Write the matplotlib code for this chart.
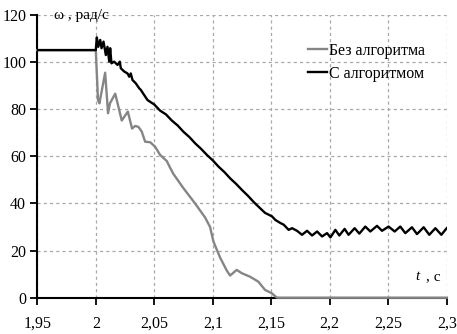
import matplotlib
matplotlib.use("Agg")
import matplotlib.pyplot as plt

plt.rcParams['font.family'] = ['Liberation Serif', 'DejaVu Serif']

# --- data ---
t_without = [1.95, 2.0, 2.0019, 2.0031, 2.0080, 2.0105, 2.0121, 2.0166, 2.0200,
             2.0222, 2.0274, 2.0310, 2.0337, 2.0365, 2.0393, 2.0422, 2.0465,
             2.0507, 2.0550, 2.0607, 2.0637, 2.0664, 2.0749, 2.0849, 2.0935,
             2.0977, 2.1006, 2.1063, 2.1120, 2.1148, 2.1205, 2.1248, 2.1319,
             2.1390, 2.1447, 2.1504, 2.1529, 2.155, 2.3]
w_without = [105.1, 105.1, 83.9, 82.5, 95.5, 78.3, 82.5, 86.6, 79.7,
             75.2, 79.0, 71.8, 72.9, 72.5, 70.5, 66.2, 66.0,
             64.1, 60.6, 58.0, 55.0, 52.5, 46.5, 40.0, 34.0,
             30.0, 23.8, 17.0, 11.5, 9.4, 11.8, 10.4, 8.9,
             6.8, 3.3, 1.9, 0.8, 0.0, 0.0]

t_with = [1.95, 2.0, 2.0009, 2.0021, 2.0038, 2.0049, 2.0066, 2.0086, 2.0100,
          2.0115, 2.0123, 2.0134, 2.0157, 2.0186, 2.0205, 2.0214, 2.0243,
          2.0271, 2.0286, 2.0299, 2.0314, 2.0342, 2.0371, 2.0385, 2.0414,
          2.0442, 2.0500, 2.0550, 2.0600, 2.0650, 2.0700, 2.0750, 2.0800,
          2.0850, 2.0900, 2.0950, 2.1000, 2.1050, 2.1100, 2.1150, 2.1200,
          2.1250, 2.1300, 2.1350, 2.1400,
          2.1447, 2.1507, 2.1535, 2.1578, 2.1606, 2.1649, 2.1678, 2.1720,
          2.1763, 2.1806, 2.1849, 2.1892, 2.1934, 2.1977, 2.2006, 2.2048,
          2.2082, 2.2127, 2.2161, 2.2213, 2.2253, 2.2304, 2.2347, 2.2404,
          2.2447, 2.2503, 2.2555, 2.2603, 2.2646, 2.2703, 2.2746, 2.2803,
          2.2851, 2.2903, 2.2954, 2.3000]
w_with = [105.1, 105.1, 110.5, 106.5, 109.4, 105.9, 108.7, 103.0, 106.5,
          100.2, 105.9, 99.5, 100.2, 98.8, 100.2, 97.4, 96.0,
          95.2, 93.8, 95.2, 92.4, 91.0, 88.9, 88.2, 86.0,
          83.9, 82.0, 79.4, 77.8, 75.2, 73.1, 70.4, 68.2,
          65.5, 63.2, 60.6, 58.3, 55.6, 53.3, 50.6, 48.3,
          45.7, 43.3, 40.6, 38.2,
          36.0, 34.5, 33.0, 31.7, 31.0, 28.8, 29.5, 28.4,
          26.7, 28.4, 26.4, 28.1, 26.0, 27.4, 25.6, 28.8,
          26.4, 29.2, 26.7, 29.5, 27.2, 30.2, 28.1, 30.5,
          28.4, 30.2, 28.1, 30.2, 27.4, 29.9, 27.0, 29.9,
          26.7, 29.5, 26.7, 29.5]

x_ticks = [1.95, 2.0, 2.05, 2.1, 2.15, 2.2, 2.25, 2.3]
x_tick_labels = ['1,95', '2', '2,05', '2,1', '2,15', '2,2', '2,25', '2,3']
y_ticks = [0, 20, 40, 60, 80, 100, 120]

fig = plt.figure(figsize=(4.57, 3.34), dpi=100)
ax = fig.add_axes([0.0816, 0.1087, 0.8959, 0.8464])

ax.plot(t_without, w_without, color='#858585', lw=1.7, label='Без алгоритма',
        zorder=4, clip_on=False)
ax.plot(t_with, w_with, color='black', lw=1.7, label='С алгоритмом', zorder=5)

ax.set_xlim(1.95, 2.3)
ax.set_ylim(0, 120)
ax.set_xticks(x_ticks)
ax.set_xticklabels(x_tick_labels)
ax.set_yticks(y_ticks)

ax.grid(True, color='#a8a8a8', linestyle=(0, (2.5, 2.5)), linewidth=0.9)
ax.set_axisbelow(True)
for s in ['top', 'right']:
    ax.spines[s].set_visible(False)
for s in ['left', 'bottom']:
    ax.spines[s].set_linewidth(1.5)
ax.tick_params(direction='out', length=5, width=1.3, labelsize=11.5, pad=8)
ax.tick_params(axis='y', pad=3)

leg = ax.legend(loc='upper left', bbox_to_anchor=(0.645, 0.925), frameon=False,
                fontsize=11.5, handlelength=1.2, handletextpad=0.15,
                labelspacing=0.45, borderaxespad=0)

fig.text(0.118, 0.955, 'ω , рад/с', fontsize=11, va='center', ha='left')
fig.text(0.965, 0.171, ', с', fontsize=11, va='center', ha='right')
fig.text(0.918, 0.171, 't', fontsize=11, va='center', ha='right', style='italic')

fig.savefig('out.png', dpi=100)
